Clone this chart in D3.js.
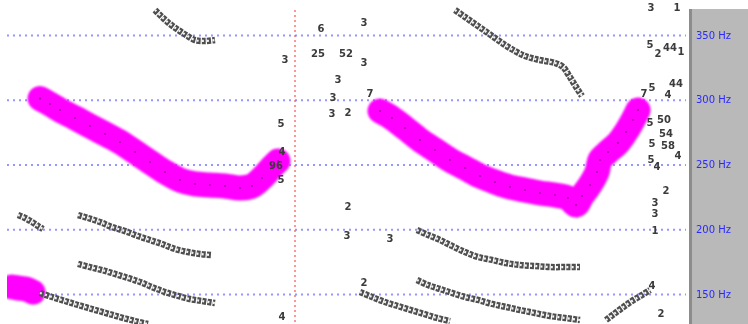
<!DOCTYPE html>
<html><head><meta charset="utf-8">
<script src="https://cdn.jsdelivr.net/npm/d3@7"></script>
<style>html,body{margin:0;padding:0;background:#fff;overflow:hidden}</style>
</head><body><svg id="c" width="748" height="324"></svg>
<script>
// ---- data (time in ms, frequency in Hz) ----
const gridHz = [150, 200, 250, 300, 350];
const gridLabels = ["150 Hz", "200 Hz", "250 Hz", "300 Hz", "350 Hz"];
const cursorMs = [288];

// selected pitch track (magenta)
const trackA = [[5,155.4],[12,154.6],[19,153.8],[26,151.5]];
const trackB = [[33,301],[43,296.7],[53,292],[68,286],[83,279.7],[98,273.6],[113,267.4],[128,259.7],[143,251.9],[158,244.2],[173,238],[188,235],[203,234.2],[218,233.4],[233,231.9],[245,233.4],[255,239.6],[265,248.1],[271,252.7]];
const trackC = [[373,291.3],[385,285.9],[398,278.2],[413,268.9],[428,261.2],[443,253.5],[458,247.3],[473,241.1],[488,236.5],[503,232.6],[518,230.3],[533,228],[548,226.4],[561,224.1],[569,218.7],[575,225.7],[583,234.2],[590,244.2],[593,253.5],[601,259.7],[611,266.6],[619,275.1],[626,284.4],[631,292.1]];

// candidate chains (black markers)
const chainA = [[148,369.3],[155,363.9],[163,358.5],[171,354],[179,350],[188,346.1],[198,345.4],[208,346.1]];
const chainB = [[448,369.3],[458,363.9],[468,358.5],[478,353.1],[488,347.7],[498,342.3],[508,337.6],[518,333.8],[528,331.5],[538,329.9],[548,328.4],[556,325.3],[561,319.9],[566,313.7],[571,307.5],[575,302.9]];
const chainC = [[11,211],[18,208.7],[25,205.6],[31,202.5],[36,200.2]];
const chainD = [[71,211],[81,208.7],[93,205.6],[105,201.7],[118,198.6],[131,194.8],[143,191.7],[155,188.6],[168,184.8],[181,182.4],[193,180.9],[205,180.1]];
const chainE = [[71,173.2],[83,170.8],[95,168.5],[108,165.5],[121,162.4],[133,159.3],[145,155.4],[158,151.5],[171,148.5],[183,146.1],[195,144.6],[208,143]];
const chainF = [[33,150.8],[45,147.7],[58,144.6],[71,141.5],[85,138.4],[99,135.3],[113,132.2],[128,129.1],[141,126.8]];
const chainG = [[410,199.4],[421,195.6],[433,191.7],[445,187.1],[458,182.4],[471,178.6],[485,176.3],[499,173.9],[513,172.4],[528,171.6],[543,170.8],[558,170.8],[573,170.8]];
const chainH = [[410,160.8],[421,156.9],[433,153.9],[445,150.8],[458,147.7],[471,145.4],[485,142.3],[499,140],[513,137.6],[528,135.3],[543,133],[558,131.5],[573,129.9]];
const chainI = [[353,151.5],[365,147.7],[378,143.8],[391,140.7],[404,137.6],[417,134.6],[430,131.5],[443,129.1]];
const chainJ = [[599,129.9],[607,134.6],[615,139.2],[625,144.6],[635,149.2],[643,153.1]];

// isolated candidate labels
const labelT  = [278,314,357,311,339,357,331,326,363,325,341,274,275,269,274,341,340,383,357,275,
                 644,670,643,651,663,674,637,645,669,661,643,657,659,645,661,671,644,650,659,648,648,648,645,654];
const labelHz = [330.7,355.4,360,336.1,336.1,328.4,316,301.4,305.2,289,289.8,282,260.4,249.6,238.8,217.2,194.8,193.2,158.5,133,
                 371.6,371.6,342.3,336.1,340,336.9,305.2,309.8,312.9,303.7,282.8,284.4,273.6,266.6,264.3,257.3,253.5,248.1,230.3,220.3,211.8,199.4,156.2,134.6];
const labelTxt = ["3","6","3","25","52","3","3","3","7","3","2","5","4","96","5","2","3","3","2","4",
                  "3","1","5","2","44","1","7","5","44","4","5","50","54","5","58","4","5","4","2","3","3","1","4","2"];

// ---- drawing ----
const svg = d3.select("#c");
const x = d3.scaleLinear().domain([0, 681]).range([7, 688]);
const y = d3.scaleLinear().domain([150, 350]).range([294, 35]);

const defs = svg.append("defs");
defs.append("filter").attr("id","blur").append("feGaussianBlur").attr("stdDeviation",0.7);
defs.append("filter").attr("id","blur2").append("feGaussianBlur").attr("stdDeviation",0.9);
defs.append("clipPath").attr("id","plot").append("rect").attr("x",7).attr("y",0).attr("width",683).attr("height",324);

// grid lines
const grid = svg.append("g").attr("transform", `translate(${x(0)},0)`)
  .call(d3.axisRight(y).tickValues(gridHz).tickSize(x(681) - x(0) - 2).tickFormat(""));
grid.select(".domain").remove();
grid.selectAll(".tick line").attr("stroke", "#6a6aff").attr("stroke-width", 1.8)
  .attr("stroke-dasharray", "2 4").attr("opacity", 0.7);

// cursor line
svg.selectAll(".cursor").data(cursorMs).join("line").attr("class","cursor")
  .attr("x1", d => x(d)).attr("x2", d => x(d)).attr("y1", 10).attr("y2", 324)
  .attr("stroke", "#ff5050").attr("stroke-width", 1.5).attr("stroke-dasharray", "2 3").attr("opacity", 0.8);

const plot = svg.append("g").attr("clip-path","url(#plot)");
const line = d3.line().x(d => x(d[0])).y(d => y(d[1])).curve(d3.curveCatmullRom);

// magenta track
const mg = plot.append("g").attr("filter","url(#blur2)");
[trackA, trackB, trackC].forEach(tr => {
  mg.append("path").attr("d", line(tr)).attr("fill","none")
    .attr("stroke","#ff00ff").attr("stroke-width",25)
    .attr("stroke-linecap","round").attr("stroke-linejoin","round");
});

// chains
const chains = plot.append("g").attr("filter","url(#blur)");
[chainA, chainB, chainC, chainD, chainE, chainF, chainG, chainH, chainI, chainJ].forEach(ch => {
  chains.append("path").attr("d", line(ch)).attr("fill","none")
    .attr("stroke","#505050").attr("stroke-width",6.5).attr("stroke-dasharray","4 1.2");
  chains.append("path").attr("d", line(ch)).attr("fill","none")
    .attr("stroke","#f2f2f2").attr("stroke-width",2.2).attr("stroke-dasharray","2 3.2");
});

// small marks inside the magenta track
const marks = plot.append("g").attr("filter","url(#blur)");
[trackB, trackC].forEach(tr => {
  marks.selectAll(null).data(tr).join("circle")
    .attr("cx", d => x(d[0])).attr("cy", d => y(d[1])).attr("r", 1)
    .attr("fill","#500050").attr("opacity",0.5);
});

// isolated labels
const labels = labelTxt.map((t, i) => ({t: labelT[i], hz: labelHz[i], s: t}));
plot.append("g").attr("filter","url(#blur)").selectAll("text").data(labels).join("text")
  .attr("x", d => x(d.t)).attr("y", d => y(d.hz))
  .attr("text-anchor","middle").attr("dominant-baseline","central")
  .attr("font-family","DejaVu Sans, sans-serif").attr("font-size",10).attr("font-weight","bold")
  .attr("fill","#3a3a3a").text(d => d.s);

// right panel
svg.append("rect").attr("x",690).attr("y",9).attr("width",58).attr("height",315).attr("fill","#b9b9b9");
svg.append("rect").attr("x",689).attr("y",9).attr("width",3).attr("height",315).attr("fill","#8c8c8c");
const ax = svg.append("g").attr("transform","translate(696,0)")
  .call(d3.axisRight(y).tickValues(gridHz).tickSize(0).tickPadding(0)
    .tickFormat((d, i) => gridLabels[i]));
ax.select(".domain").remove();
ax.selectAll("text").attr("font-family","DejaVu Sans, sans-serif").attr("font-size",10)
  .attr("fill","#2a2aff").attr("filter","url(#blur)");
</script></body></html>
